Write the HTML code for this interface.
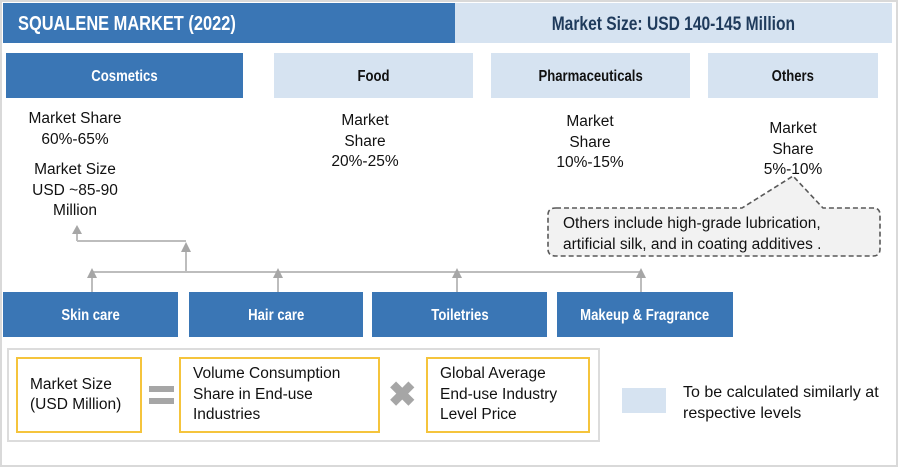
<!DOCTYPE html>
<html><head><meta charset="utf-8"><style>
body{margin:0;width:900px;height:470px;background:#fff;position:relative;overflow:hidden;font-family:"Liberation Sans",sans-serif;color:#111}
.a{position:absolute;box-sizing:border-box}
.hd{font-weight:bold;display:flex;align-items:center;justify-content:center;padding-top:3px}
.hd span{display:inline-block;transform:scaleX(0.82);white-space:nowrap}
.dk{background:#3a76b5;color:#fff}
.lt{background:#d6e3f1;color:#111}
.tx{font-size:15.5px;line-height:20.5px;text-align:center}
.yb{border:2px solid #f5c43c;background:#fff;font-size:15.5px;line-height:20.5px;padding-left:12px;display:flex;align-items:center;white-space:nowrap}
</style></head><body>
<div class="a" style="left:0;top:0;width:898px;height:467px;border:2px solid #d9d9d9"></div>
<div class="a hd dk" style="left:3px;top:3px;width:452px;height:40px;justify-content:flex-start;padding-left:15px;font-size:20px"><span style="transform-origin:left center">SQUALENE MARKET (2022)</span></div>
<div class="a hd lt" style="left:455px;top:3px;width:437px;height:40px;font-size:19px;color:#1f3b5c"><span>Market Size: USD 140-145 Million</span></div>

<div class="a hd dk" style="left:6px;top:53px;width:237px;height:45px;font-size:16px"><span>Cosmetics</span></div>
<div class="a hd lt" style="left:274px;top:53px;width:199px;height:45px;font-size:16px"><span>Food</span></div>
<div class="a hd lt" style="left:491px;top:53px;width:199px;height:45px;font-size:16px"><span>Pharmaceuticals</span></div>
<div class="a hd lt" style="left:708px;top:53px;width:170px;height:45px;font-size:16px"><span>Others</span></div>

<div class="a tx" style="left:0;top:109px;width:150px">Market Share<br>60%-65%</div>
<div class="a tx" style="left:0;top:160px;width:150px">Market Size<br>USD ~85-90<br>Million</div>
<div class="a tx" style="left:300px;top:111px;width:130px">Market<br>Share<br>20%-25%</div>
<div class="a tx" style="left:525px;top:112px;width:130px">Market<br>Share<br>10%-15%</div>
<div class="a tx" style="left:728px;top:119px;width:130px">Market<br>Share<br>5%-10%</div>

<svg class="a" style="left:0;top:0" width="900" height="470">
<g stroke="#bdbdbd" stroke-width="2" fill="none">
<path d="M77 241V232M77 241H186M186 272V250M92 272H641M92 292V276M278 292V276M457 292V276M641 292V276"/>
</g>
<g fill="#a6a6a6">
<path d="M72 234h10l-5-9z"/><path d="M181 252h10l-5-10z"/>
<path d="M87 278h10l-5-10z"/><path d="M273 278h10l-5-10z"/><path d="M452 278h10l-5-10z"/><path d="M636 278h10l-5-10z"/>
</g>
<path d="M556 208H742L793 176L823 208H873Q880 208 880 215V249Q880 256 873 256H556Q548 256 548 249V215Q548 208 556 208Z" fill="#f2f2f2" stroke="#595959" stroke-width="1.6" stroke-dasharray="5 3"/>
</svg>
<div class="a" style="left:563px;top:213px;font-size:15.5px;line-height:21px;white-space:nowrap">Others include high-grade lubrication,<br>artificial silk, and in coating additives .</div>

<div class="a hd dk" style="left:3px;top:292px;width:175px;height:45px;font-size:16px"><span>Skin care</span></div>
<div class="a hd dk" style="left:189px;top:292px;width:174px;height:45px;font-size:16px"><span>Hair care</span></div>
<div class="a hd dk" style="left:372px;top:292px;width:175px;height:45px;font-size:16px"><span>Toiletries</span></div>
<div class="a hd dk" style="left:557px;top:292px;width:176px;height:45px;font-size:16px"><span>Makeup &amp; Fragrance</span></div>

<div class="a" style="left:7px;top:348px;width:593px;height:94px;border:2px solid #dcdcdc"></div>
<div class="a yb" style="left:16px;top:357px;width:126px;height:76px">Market Size<br>(USD Million)</div>
<div class="a" style="left:149px;top:386px;width:25px;height:6px;background:#a6a6a6"></div>
<div class="a" style="left:149px;top:398px;width:25px;height:6px;background:#a6a6a6"></div>
<div class="a yb" style="left:179px;top:357px;width:201px;height:76px">Volume Consumption<br>Share in End-use<br>Industries</div>
<div class="a" style="left:388px;top:378px;font-size:34px;line-height:34px;color:#a6a6a6;font-weight:bold">✖</div>
<div class="a yb" style="left:426px;top:357px;width:164px;height:76px">Global Average<br>End-use Industry<br>Level Price</div>

<div class="a lt" style="left:622px;top:388px;width:44px;height:25px"></div>
<div class="a" style="left:683px;top:383px;font-size:16px;line-height:20.5px;white-space:nowrap">To be calculated similarly at<br>respective levels</div>
</body></html>
